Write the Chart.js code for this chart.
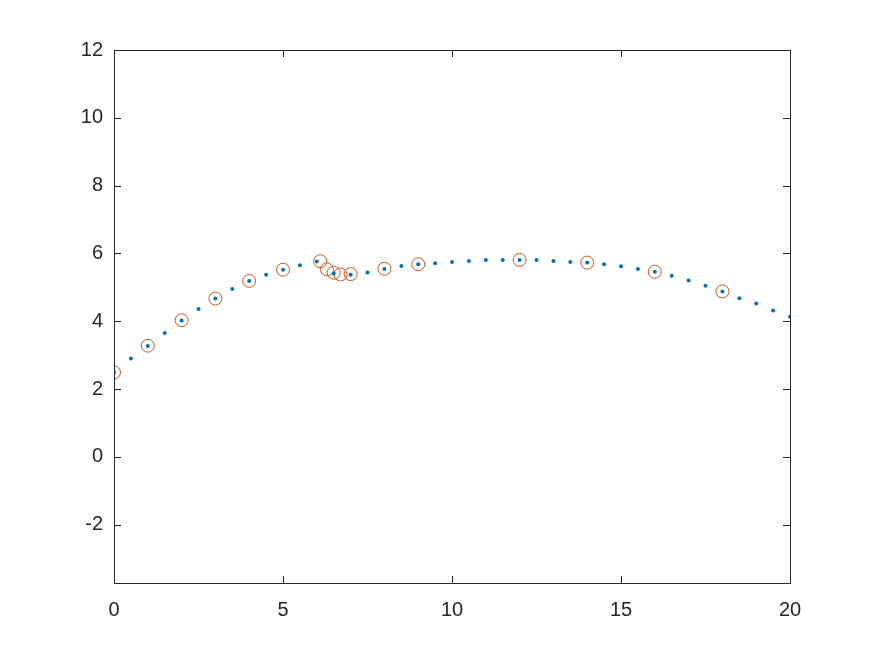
<!DOCTYPE html>
<html>
<head>
<meta charset="utf-8">
<script src="https://cdn.jsdelivr.net/npm/chart.js@4/dist/chart.umd.min.js"></script>
<style>
  html, body { margin: 0; padding: 0; background: #fff; }
  #wrap { width: 873px; height: 655px; }
</style>
</head>
<body>
<div id="wrap"><canvas id="fitChart" width="873" height="655"></canvas></div>
<script>
// curve samples (blue dots)
const curveX = [
  0, 0.5, 1, 1.5, 2, 2.5, 3, 3.5, 4, 4.5, 5, 5.5, 6, 6.5, 7, 7.5, 8, 8.5, 9, 9.5,
  10, 10.5, 11, 11.5, 12, 12.5, 13, 13.5, 14, 14.5, 15, 15.5, 16, 16.5, 17, 17.5,
  18, 18.5, 19, 19.5, 20,
];
const curveY = [
  2.49, 2.9, 3.27, 3.65, 4.02, 4.36, 4.67, 4.95, 5.19, 5.37, 5.52, 5.65, 5.76,
  5.41, 5.37, 5.44, 5.54, 5.63, 5.68, 5.71, 5.75, 5.78, 5.81, 5.81, 5.81, 5.81,
  5.78, 5.75, 5.73, 5.68, 5.62, 5.54, 5.46, 5.34, 5.2, 5.05, 4.88, 4.68, 4.52,
  4.32, 4.13,
];

// measured points (red circles)
const sampleX = [0, 1, 2, 3, 4, 5, 6.1, 6.3, 6.5, 6.7, 7, 8, 9, 12, 14, 16, 18];
const sampleY = [
  2.49, 3.28, 4.03, 4.67, 5.19, 5.52, 5.77, 5.53, 5.43, 5.38, 5.39, 5.55, 5.68,
  5.81, 5.73, 5.46, 4.88,
];

const xTicks = [0, 5, 10, 15, 20];
const yTicks = [-2, 0, 2, 4, 6, 8, 10, 12];

const axisColor = "#262626";

// box around the axes with inward tick marks on all four sides
const boxPlugin = {
  id: "box",
  afterDraw(chart) {
    const c = chart.ctx;
    const a = chart.chartArea;
    const xs = chart.scales.x;
    const ys = chart.scales.y;
    const len = 7;
    c.save();
    c.strokeStyle = axisColor;
    c.lineWidth = 1;
    c.beginPath();
    c.rect(Math.round(a.left) + 0.5, Math.round(a.top) + 0.5,
      Math.round(a.right - a.left), Math.round(a.bottom - a.top));
    xTicks.forEach((v) => {
      const px = Math.round(xs.getPixelForValue(v)) + 0.5;
      c.moveTo(px, a.bottom);
      c.lineTo(px, a.bottom - len);
      c.moveTo(px, a.top);
      c.lineTo(px, a.top + len);
    });
    yTicks.forEach((v) => {
      const py = Math.round(ys.getPixelForValue(v)) + 0.5;
      c.moveTo(a.left, py);
      c.lineTo(a.left + len, py);
      c.moveTo(a.right, py);
      c.lineTo(a.right - len, py);
    });
    c.stroke();
    c.restore();
  },
};

const ctx = document.getElementById("fitChart").getContext("2d");

new Chart(ctx, {
  type: "scatter",
  data: {
    datasets: [
      {
        label: "curve",
        data: curveX.map((x, i) => ({ x: x, y: curveY[i] })),
        pointStyle: "circle",
        pointRadius: 2,
        backgroundColor: "#0072BD",
        borderColor: "#0072BD",
        borderWidth: 0,
      },
      {
        label: "samples",
        data: sampleX.map((x, i) => ({ x: x, y: sampleY[i] })),
        pointStyle: "circle",
        pointRadius: 6.5,
        backgroundColor: "rgba(0,0,0,0)",
        borderColor: "#D95319",
        borderWidth: 1,
      },
    ],
  },
  options: {
    responsive: false,
    animation: false,
    layout: {
      padding: { left: 0, right: 83, top: 50, bottom: 0 },
    },
    plugins: {
      legend: { display: false },
      tooltip: { enabled: false },
    },
    scales: {
      x: {
        type: "linear",
        min: 0,
        max: 20,
        afterBuildTicks: (scale) => {
          scale.ticks = xTicks.map((v) => ({ value: v }));
        },
        afterFit: (scale) => {
          scale.height = 72;
        },
        grid: { display: false, drawTicks: false },
        border: { display: false },
        ticks: {
          color: axisColor,
          padding: 15,
          font: { family: "Liberation Sans", size: 20 },
          maxRotation: 0,
        },
      },
      y: {
        type: "linear",
        min: -3.72,
        max: 12,
        afterBuildTicks: (scale) => {
          scale.ticks = yTicks.map((v) => ({ value: v }));
        },
        afterFit: (scale) => {
          scale.width = 114;
        },
        grid: { display: false, drawTicks: false },
        border: { display: false },
        ticks: {
          color: axisColor,
          padding: 11,
          font: { family: "Liberation Sans", size: 20 },
        },
      },
    },
  },
  plugins: [boxPlugin],
});
</script>
</body>
</html>
